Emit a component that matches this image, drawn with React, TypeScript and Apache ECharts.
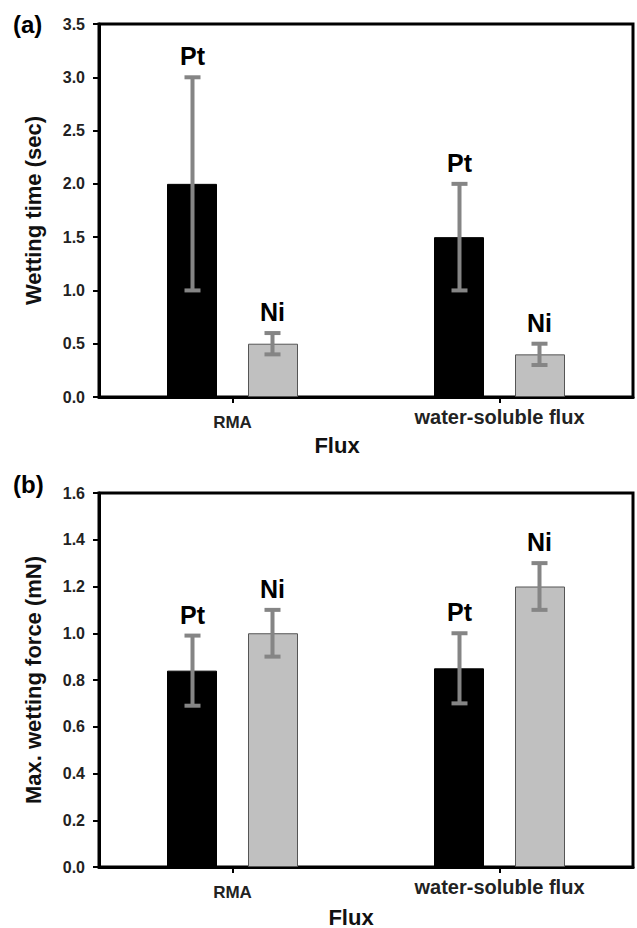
import React, { useEffect, useRef } from "react";
import * as echarts from "echarts";

const categories = ["RMA", "water-soluble flux"];
const metals = ["Pt", "Ni"];

const wettingTimePt = [2.0, 1.5];
const wettingTimePtErr = [1.0, 0.5];
const wettingTimeNi = [0.5, 0.4];
const wettingTimeNiErr = [0.1, 0.1];

const wettingForcePt = [0.84, 0.85];
const wettingForcePtErr = [0.15, 0.15];
const wettingForceNi = [1.0, 1.2];
const wettingForceNiErr = [0.1, 0.1];

const timeAxis = { min: 0, max: 3.5, interval: 0.5 };
const forceAxis = { min: 0, max: 1.6, interval: 0.2 };

const FONT = "'Liberation Sans', Arial, Helvetica, sans-serif";

function errSeries(name: string, idx: number, values: number[], errs: number[], offset: number) {
  return {
    type: "custom",
    name,
    xAxisIndex: idx,
    yAxisIndex: idx,
    clip: false,
    z: 5,
    data: values.map((v, i) => [i, v, errs[i]]),
    encode: { x: 0, y: 1 },
    renderItem: (params: any, api: any) => {
      const i = api.value(0);
      const v = api.value(1);
      const e = api.value(2);
      const hi = api.coord([i, v + e]);
      const lo = api.coord([i, v - e]);
      const x = hi[0] + offset;
      const style = { stroke: "#858585", lineWidth: 4 };
      return {
        type: "group",
        children: [
          { type: "line", shape: { x1: x, y1: hi[1], x2: x, y2: lo[1] }, style },
          { type: "line", shape: { x1: x - 8, y1: hi[1], x2: x + 8, y2: hi[1] }, style },
          { type: "line", shape: { x1: x - 8, y1: lo[1], x2: x + 8, y2: lo[1] }, style },
          {
            type: "text",
            x,
            y: hi[1] - 21,
            style: {
              text: name,
              align: "center",
              verticalAlign: "middle",
              fontSize: 25,
              fontWeight: "bold",
              fontFamily: FONT,
              fill: "#000",
            },
          },
        ],
      };
    },
  };
}

function barSeries(name: string, idx: number, values: number[], color: string, border: string) {
  return {
    type: "bar",
    name,
    xAxisIndex: idx,
    yAxisIndex: idx,
    data: values,
    barWidth: 50,
    barGap: "62%",
    itemStyle: { color, borderColor: border, borderWidth: 1 },
    z: 3,
  };
}

function xAxis(idx: number) {
  return {
    type: "category",
    gridIndex: idx,
    data: categories,
    axisLine: { show: true, lineStyle: { color: "#000", width: 3 } },
    axisTick: { show: true, alignWithLabel: true, length: 6, lineStyle: { color: "#000", width: 2 } },
    axisLabel: {
      margin: 10,
      interval: 0,
      formatter: (v: string) => (v === categories[0] ? `{a|${v}}` : `{b|${v}}`),
      rich: {
        a: { fontSize: 17, fontWeight: "bold", fontFamily: FONT, color: "#222", padding: [7, 0, 0, 0] },
        b: { fontSize: 20, fontWeight: "bold", fontFamily: FONT, color: "#222" },
      },
    },
    splitLine: { show: false },
  };
}

function yAxis(idx: number, cfg: { min: number; max: number; interval: number }, name: string) {
  return {
    type: "value",
    gridIndex: idx,
    min: cfg.min,
    max: cfg.max,
    interval: cfg.interval,
    name,
    nameLocation: "middle",
    nameGap: 55,
    nameTextStyle: { fontSize: 22, fontWeight: "bold", fontFamily: FONT, color: "#111" },
    axisLine: { show: true, lineStyle: { color: "#000", width: 3 } },
    axisTick: { show: true, length: 6, lineStyle: { color: "#000", width: 2 } },
    axisLabel: {
      margin: 14,
      fontSize: 16,
      fontWeight: "bold",
      fontFamily: FONT,
      color: "#222",
      formatter: (v: number) => v.toFixed(1),
    },
    splitLine: { show: false },
  };
}

export default function App() {
  const ref = useRef<HTMLDivElement>(null);
  useEffect(() => {
    document.body.style.margin = "0";
    const chart = echarts.init(ref.current!, undefined, { renderer: "svg" });
    chart.setOption({
      animation: false,
      backgroundColor: "#fff",
      grid: [
        { left: 99, top: 24, width: 534, height: 373, show: true, borderColor: "#000", borderWidth: 3 },
        { left: 99, top: 493, width: 534, height: 374, show: true, borderColor: "#000", borderWidth: 3 },
      ],
      xAxis: [xAxis(0), xAxis(1)],
      yAxis: [
        yAxis(0, timeAxis, "Wetting time (sec)"),
        yAxis(1, forceAxis, "Max. wetting force (mN)"),
      ],
      series: [
        barSeries(metals[0], 0, wettingTimePt, "#000", "#000"),
        barSeries(metals[1], 0, wettingTimeNi, "#c0c0c0", "#555"),
        errSeries(metals[0], 0, wettingTimePt, wettingTimePtErr, -40),
        errSeries(metals[1], 0, wettingTimeNi, wettingTimeNiErr, 40),
        barSeries(metals[0], 1, wettingForcePt, "#000", "#000"),
        barSeries(metals[1], 1, wettingForceNi, "#c0c0c0", "#555"),
        errSeries(metals[0], 1, wettingForcePt, wettingForcePtErr, -40),
        errSeries(metals[1], 1, wettingForceNi, wettingForceNiErr, 40),
      ],
      graphic: [
        { type: "text", left: 13, top: 12, style: { text: "(a)", fontSize: 24, fontWeight: "bold", fontFamily: FONT, fill: "#000" } },
        { type: "text", left: 13, top: 472, style: { text: "(b)", fontSize: 24, fontWeight: "bold", fontFamily: FONT, fill: "#000" } },
        { type: "text", x: 337, y: 445, style: { text: "Flux", align: "center", verticalAlign: "middle", fontSize: 22, fontWeight: "bold", fontFamily: FONT, fill: "#111" } },
        { type: "text", x: 351, y: 917, style: { text: "Flux", align: "center", verticalAlign: "middle", fontSize: 22, fontWeight: "bold", fontFamily: FONT, fill: "#111" } },
      ],
    });
    return () => chart.dispose();
  }, []);
  return <div ref={ref} style={{ width: 637, height: 928 }} />;
}
